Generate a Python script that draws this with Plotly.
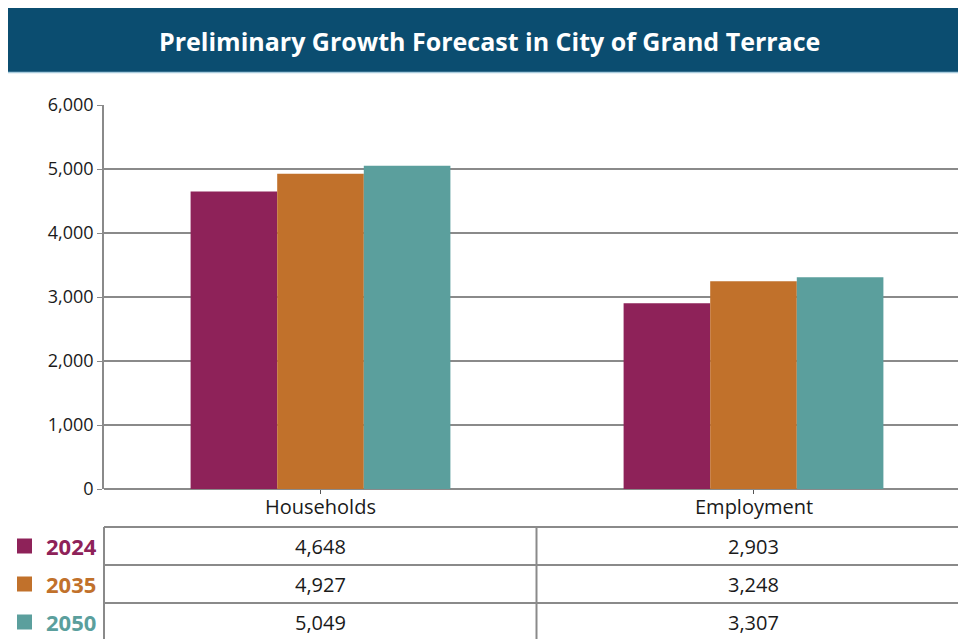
import plotly.graph_objects as go

categories = ["Households", "Employment"]
years = ["2024", "2035", "2050"]
values_2024 = [4648, 2903]
values_2035 = [4927, 3248]
values_2050 = [5049, 3307]
colors = ["#8E2259", "#C1712B", "#5B9F9D"]
y_ticks = [0, 1000, 2000, 3000, 4000, 5000, 6000]

series = [values_2024, values_2035, values_2050]

# figure fills the whole window (body margin removed below)
OFF = 0
W, H = 958, 639
PLOT_L, PLOT_T, PLOT_B = 104, 105, 489   # screen pixels
ML = PLOT_L - OFF
MT = PLOT_T - OFF
MB = H - (PLOT_B - OFF)
PW = W - ML
PH = H - MT - MB

def px(x):
    return (x - OFF - ML) / PW

def py(y):
    return (PLOT_B - y) / PH

fig = go.Figure()
for yr, vals, col in zip(years, series, colors):
    fig.add_trace(go.Bar(x=categories, y=vals, name=yr, marker=dict(color=col, line=dict(width=0)),
                         showlegend=False, hoverinfo="x+y+name"))

shapes = []
annotations = []
grey = "#8a8a8a"
txt = "#1a1a1a"

# title banner
shapes.append(dict(type="rect", xref="paper", yref="paper", x0=px(8), x1=px(960), y0=py(72), y1=py(8),
                   fillcolor="#0B4D70", line=dict(width=0), layer="above"))
shapes.append(dict(type="line", xref="paper", yref="paper", x0=px(8), x1=px(960), y0=py(72.5), y1=py(72.5),
                   line=dict(color="#A9CCDD", width=1.5)))
annotations.append(dict(text="<b>Preliminary Growth Forecast in City of Grand Terrace</b>", xref="paper", yref="paper",
                        x=px(489), y=py(41), showarrow=False, xanchor="center", yanchor="middle",
                        font=dict(family="Open Sans", size=25, color="white")))

# category labels
for c in categories:
    annotations.append(dict(text=c, xref="x", yref="paper", x=c, y=py(506), showarrow=False,
                            xanchor="center", yanchor="middle", font=dict(family="Open Sans", size=20, color=txt)))

# data table
row_top = [527, 565, 603]
row_h = 38
for r in row_top:
    shapes.append(dict(type="line", xref="paper", yref="paper", x0=0, x1=1, y0=py(r), y1=py(r),
                       line=dict(color=grey, width=2)))
shapes.append(dict(type="line", xref="paper", yref="paper", x0=0, x1=0, y0=py(527), y1=py(641),
                   line=dict(color=grey, width=2)))
shapes.append(dict(type="line", xref="paper", yref="paper", x0=px(536.5), x1=px(536.5), y0=py(527), y1=py(641),
                   line=dict(color=grey, width=2)))

for i, (yr, vals, col) in enumerate(zip(years, series, colors)):
    cy = row_top[i] + row_h / 2
    shapes.append(dict(type="rect", xref="paper", yref="paper", x0=px(17), x1=px(32), y0=py(cy + 7.5), y1=py(cy - 7.5),
                       fillcolor=col, line=dict(width=0)))
    annotations.append(dict(text=f"<b>{yr}</b>", xref="paper", yref="paper", x=px(44), y=py(cy),
                            showarrow=False, xanchor="left", yanchor="middle",
                            font=dict(family="Open Sans", size=22, color=col)))
    for c, v in zip(categories, vals):
        annotations.append(dict(text=f"{v:,}", xref="x", yref="paper", x=c, y=py(cy),
                                showarrow=False, xanchor="center", yanchor="middle",
                                font=dict(family="Open Sans", size=20, color=txt)))

fig.update_layout(
    width=W, height=H,
    margin=dict(l=ML, r=0, t=MT, b=MB),
    paper_bgcolor="white", plot_bgcolor="white",
    barmode="group", bargap=0.4, bargroupgap=0,
    shapes=shapes, annotations=annotations,
    font=dict(family="Open Sans", color=txt),
)
fig.update_xaxes(range=[-0.5, -0.5 + PW / 433], showgrid=False, showline=False,
                 ticks="outside", ticklen=4, tickcolor="#555", showticklabels=False,
                 fixedrange=True)
fig.update_yaxes(range=[0, 6000], tickvals=y_ticks, tickformat=",d", showgrid=True, gridcolor=grey, gridwidth=1.5,
                 showline=True, linecolor=grey, linewidth=1.5, ticks="outside", ticklen=5, tickcolor=grey,
                 tickfont=dict(size=18, color=txt), zeroline=True, zerolinecolor=grey, zerolinewidth=1.5,
                 fixedrange=True)

fig.write_html("out.html", config={"displayModeBar": False},
               post_script="document.body.style.margin='0';document.documentElement.style.overflow='hidden';document.body.style.overflow='hidden';")
